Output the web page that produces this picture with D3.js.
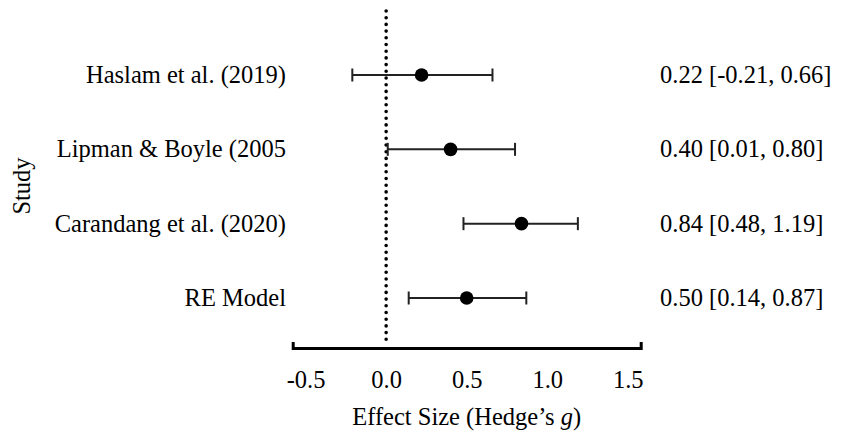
<!DOCTYPE html>
<html>
<head>
<meta charset="utf-8">
<script src="https://cdn.jsdelivr.net/npm/d3@7"></script>
<style>
  body { margin: 0; background: #fff; }
  svg text { font-family: "Liberation Serif", "Times New Roman", serif; fill: #000; }
</style>
</head>
<body>
<svg id="chart" width="851" height="443"></svg>
<script>
// forest plot data
const studies = ['Haslam et al. (2019)', 'Lipman & Boyle (2005', 'Carandang et al. (2020)', 'RE Model'];
const estimates = [0.22, 0.40, 0.84, 0.50];
const lower = [-0.21, 0.01, 0.48, 0.14];
const upper = [0.66, 0.80, 1.19, 0.87];
const ciLabels = ['0.22 [-0.21, 0.66]', '0.40 [0.01, 0.80]', '0.84 [0.48, 1.19]', '0.50 [0.14, 0.87]'];
const xTicks = [-0.5, 0, 0.5, 1.0, 1.5];

const FONT = '24.5px';
const svg = d3.select('#chart');
const axisY = 348;

const x = d3.scaleLinear().domain([-0.58, 1.58]).range([292.7, 640.7]);
const y = d3.scalePoint().domain(studies).range([75, 298]);

/* linha pontilhada no zero */
svg.append('line')
    .attr('x1', x(0)).attr('x2', x(0))
    .attr('y1', 11).attr('y2', axisY - 3)
    .attr('stroke', '#000')
    .attr('stroke-width', 3.6)
    .attr('stroke-linecap', 'round')
    .attr('stroke-dasharray', '0,6.7');

// eixo x (hifen normal no lugar do sinal de menos)
const xAxis = d3.axisBottom(x)
    .tickValues(xTicks)
    .tickFormat(d => d3.format('.1f')(d).replace('\u2212', '-'))
    .tickSizeInner(0)
    .tickSizeOuter(-6)
    .tickPadding(23);

const gx = svg.append('g')
    .attr('transform', `translate(0,${axisY})`)
    .call(xAxis);
gx.select('.domain').attr('stroke', '#000').attr('stroke-width', 3);
gx.selectAll('text')
    .style('font-family', '"Liberation Serif", "Times New Roman", serif')
    .style('font-size', FONT)
    .attr('fill', '#000');

const title = svg.append('text')
    .attr('x', x(0.5))
    .attr('y', 425)
    .attr('text-anchor', 'middle')
    .style('font-size', FONT);
title.append('tspan').text('Effect Size (Hedge\u2019s ');
title.append('tspan').style('font-style', 'italic').text('g');
title.append('tspan').text(')');

svg.append('text')
    .attr('transform', `translate(30,186) rotate(-90)`)
    .attr('text-anchor', 'middle')
    .style('font-size', FONT)
    .text('Study');

// linhas dos estudos
const rows = svg.append('g').selectAll('g')
    .data(studies)
    .join('g')
    .attr('transform', d => `translate(0,${y(d)})`);

rows.append('text')
    .attr('x', 286)
    .attr('y', 8)
    .attr('text-anchor', 'end')
    .style('font-size', FONT)
    .text(d => d);

rows.append('line')
    .attr('x1', (d, i) => x(lower[i]))
    .attr('x2', (d, i) => x(upper[i]))
    .attr('stroke', '#222')
    .attr('stroke-width', 2);

rows.selectAll('line.cap')
    .data((d, i) => [lower[i], upper[i]])
    .join('line')
    .attr('class', 'cap')
    .attr('x1', v => x(v)).attr('x2', v => x(v))
    .attr('y1', -6.5).attr('y2', 6.5)
    .attr('stroke', '#222')
    .attr('stroke-width', 2);

rows.append('circle')
    .attr('cx', (d, i) => x(estimates[i]))
    .attr('r', 6.8)
    .attr('fill', '#000');

rows.append('text')
    .attr('x', 660)
    .attr('y', 8)
    .style('font-size', FONT)
    .text((d, i) => ciLabels[i]);
</script>
</body>
</html>
